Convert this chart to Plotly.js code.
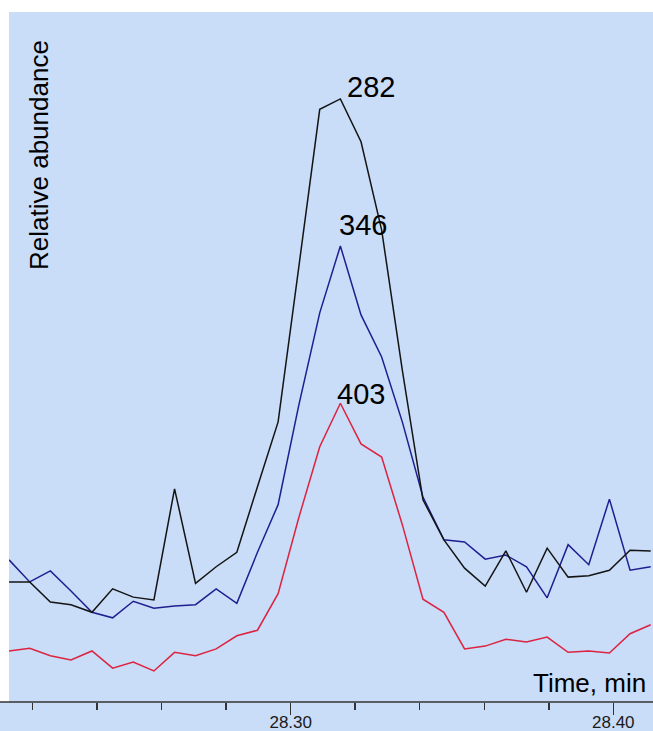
<!DOCTYPE html>
<html>
<head>
<meta charset="utf-8">
<script src="https://cdn.plot.ly/plotly-3.0.1.min.js"></script>
<style>
  html, body { margin: 0; padding: 0; background: #ffffff; }
  #chart { width: 653px; height: 731px; }
</style>
</head>
<body>
<div id="chart"></div>
<script>
// Retention time (min) of each scan
const times = [
  28.2127, 28.2191, 28.2255, 28.2319, 28.2384, 28.2448, 28.2512, 28.2576,
  28.2640, 28.2705, 28.2769, 28.2833, 28.2897, 28.2961, 28.3025, 28.3090,
  28.3154, 28.3218, 28.3282, 28.3346, 28.3410, 28.3475, 28.3539, 28.3603,
  28.3667, 28.3731, 28.3795, 28.3860, 28.3924, 28.3988, 28.4052, 28.4116
];

// Ion traces (relative abundance, arbitrary scale)
const ion282 = [
  17.4, 17.4, 14.5, 14.1, 13.0, 16.4, 15.2, 14.8,
  30.9, 17.2, 19.6, 21.7, 31.2, 40.6, 63.0, 85.9,
  87.4, 81.2, 68.4, 48.1, 29.3, 23.5, 19.4, 16.8,
  21.9, 15.9, 22.3, 18.1, 18.3, 19.1, 22.0, 21.9
];
const ion346 = [
  20.6, 17.4, 19.0, 16.1, 13.0, 12.2, 14.6, 13.6,
  13.9, 14.1, 16.4, 14.3, 21.7, 28.6, 43.0, 56.4,
  66.1, 56.1, 50.0, 40.6, 29.7, 23.5, 23.2, 20.7,
  21.3, 19.6, 15.1, 22.8, 19.9, 29.4, 19.1, 19.6
];
const ion403 = [
  7.4, 7.8, 6.7, 6.1, 7.4, 4.9, 5.8, 4.5,
  7.2, 6.7, 7.7, 9.6, 10.4, 15.7, 26.7, 37.0,
  43.3, 37.4, 35.5, 25.7, 14.9, 13.0, 7.7, 8.1,
  9.1, 8.7, 9.4, 7.2, 7.4, 7.1, 9.9, 11.2
];

const ionLabels = ['282', '346', '403'];
const tickVals = [28.30, 28.40];
const tickText = ['28.30', '28.40'];

const FONT = '"Liberation Sans", Arial, Helvetica, sans-serif';
const BG = '#c9dcf8';

const series = [
  { name: ionLabels[0], y: ion282, color: '#141414', dx: 5, dy: -6 },
  { name: ionLabels[1], y: ion346, color: '#1f1f8f', dx: -3, dy: 3 },
  { name: ionLabels[2], y: ion403, color: '#dc2340', dx: -5, dy: -9 }
];

const traces = series.slice().reverse().map(s => ({
  type: 'scatter',
  mode: 'lines',
  x: times,
  y: s.y,
  name: s.name,
  line: { color: s.color, width: 1.5 },
  hoverinfo: 'x+y+name'
}));

const annotations = series.map(s => {
  let idx = 0;
  s.y.forEach((v, i) => { if (v > s.y[idx]) idx = i; });
  return {
    x: times[idx], y: s.y[idx], xref: 'x', yref: 'y',
    text: s.name, showarrow: false,
    xanchor: 'left', yanchor: 'bottom',
    xshift: s.dx, yshift: s.dy,
    font: { family: FONT, size: 29, color: '#000000' }
  };
});

annotations.push({
  xref: 'paper', yref: 'paper', x: 0.0466, y: 0.7928,
  xanchor: 'center', yanchor: 'middle', textangle: -90,
  text: 'Relative abundance', showarrow: false,
  font: { family: FONT, size: 26, color: '#000000' }
});
annotations.push({
  xref: 'paper', yref: 'paper', x: 0.9922, y: 0,
  xanchor: 'right', yanchor: 'bottom', yshift: 2,
  text: 'Time, min', showarrow: false,
  font: { family: FONT, size: 26, color: '#000000' }
});

const layout = {
  width: 653, height: 731,
  margin: { l: 9, r: 0, t: 12, b: 29, pad: 0 },
  paper_bgcolor: '#ffffff',
  plot_bgcolor: BG,
  showlegend: false,
  font: { family: FONT, color: '#222222' },
  xaxis: {
    range: [28.21268, 28.41231],
    showgrid: false, zeroline: false, showline: false,
    tickmode: 'array', tickvals: tickVals, ticktext: tickText,
    ticks: 'outside', ticklen: 12, tickwidth: 1.5, tickcolor: '#333333',
    ticklabelstandoff: -7,
    tickfont: { family: FONT, size: 17, color: '#1a1a1a' },
    minor: { dtick: 0.02, tick0: 28.30, ticks: 'outside', ticklen: 7, tickwidth: 1.5, tickcolor: '#333333', showgrid: false },
    fixedrange: true
  },
  yaxis: {
    range: [0, 100],
    showgrid: false, zeroline: false, showline: false,
    showticklabels: false, ticks: '',
    fixedrange: true
  },
  shapes: [
    { type: 'rect', xref: 'paper', yref: 'paper', x0: -0.015, x1: 1.0, y0: -0.045, y1: 0,
      fillcolor: BG, line: { width: 0 }, layer: 'below' },
    { type: 'line', xref: 'paper', yref: 'paper', x0: -0.015, x1: 1.0, y0: 0, y1: 0,
      line: { color: '#333333', width: 1.5 }, layer: 'above' }
  ],
  annotations: annotations
};

Plotly.newPlot('chart', traces, layout, { displayModeBar: false, staticPlot: true });
</script>
</body>
</html>
